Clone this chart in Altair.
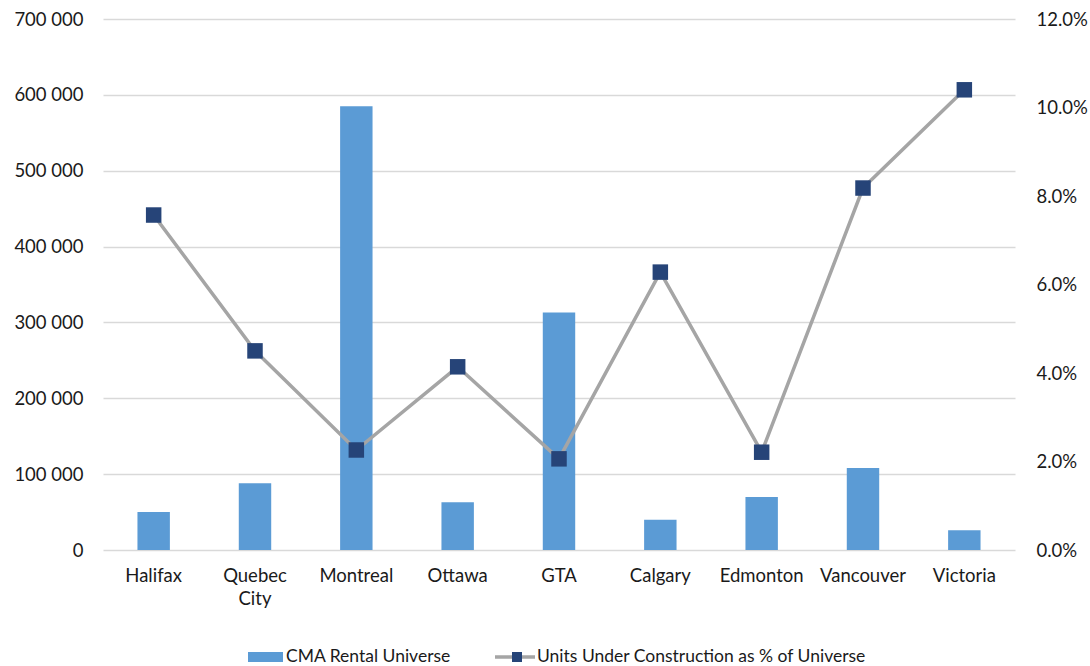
import altair as alt
import pandas as pd

cities = ["Halifax", "Quebec City", "Montreal", "Ottawa", "GTA", "Calgary",
          "Edmonton", "Vancouver", "Victoria"]
rental_universe = [50000, 88000, 585000, 63000, 313000, 40000, 70000, 108000, 26000]
pct_under_construction = [0.0757, 0.0450, 0.0226, 0.0414, 0.0206, 0.0628,
                          0.0221, 0.0818, 0.1040]

bar_name = "CMA Rental Universe"
line_name = "Units Under Construction as % of Universe"

df = pd.DataFrame({"city": cities, "universe": rental_universe, "pct": pct_under_construction})

FONT = "Lato"
BAR = "#5B9BD5"
LINE = "#A5A5A5"
MARK = "#264478"
TXT = "#1a1a1a"
LBL = 18.5
NO_FRAME = alt.ViewBackground(stroke="transparent", strokeWidth=0)

x_axis = alt.Axis(
    labelAngle=0, labelFontSize=LBL, labelColor=TXT, labelFont=FONT,
    labelPadding=16, ticks=False, domain=False, grid=False,
    labelOverlap=False, labelBaseline="top", labelLineHeight=23,
    labelExpr="datum.value == 'Quebec City' ? ['Quebec', 'City'] : datum.value",
)
x_enc = alt.X("city:N", sort=cities, title=None,
              scale=alt.Scale(paddingInner=0.68, paddingOuter=0.34), axis=x_axis)

bars = alt.Chart(df).mark_bar(color=BAR).encode(
    x=x_enc,
    y=alt.Y(
        "universe:Q", title=None,
        scale=alt.Scale(domain=[0, 700000], nice=False),
        axis=alt.Axis(
            values=[0, 100000, 200000, 300000, 400000, 500000, 600000, 700000],
            labelExpr="replace(format(datum.value, ','), /,/g, ' ')",
            labelFontSize=LBL, labelColor=TXT, labelFont=FONT, labelPadding=20,
            ticks=False, domain=False, grid=True, gridColor="#D9D9D9", gridWidth=1.3,
        ),
    ),
)

pct_scale = alt.Scale(domain=[0, 0.12], nice=False)
pct_axis = alt.Axis(
    orient="right", values=[0, 0.02, 0.04, 0.06, 0.08, 0.10, 0.12], format=".1%",
    labelFontSize=LBL, labelColor=TXT, labelFont=FONT, labelPadding=21,
    ticks=False, domain=False, grid=False,
)

line = alt.Chart(df).mark_line(color=LINE, strokeWidth=3.5).encode(
    x=x_enc, y=alt.Y("pct:Q", title=None, scale=pct_scale, axis=pct_axis)
)
points = alt.Chart(df).mark_square(color=MARK, opacity=1, size=240).encode(
    x=x_enc, y=alt.Y("pct:Q", title=None, scale=pct_scale, axis=pct_axis)
)

pct_layer = alt.layer(line, points).properties(view=NO_FRAME)

# Legend drawn below the plot area
leg_y = 531 + 107
leg_font = 17.5
one = lambda t: pd.DataFrame({"t": [t]})
legend = alt.layer(
    alt.Chart(one(bar_name)).mark_rect(color=BAR).encode(
        x=alt.value(145), x2=alt.value(180),
        y=alt.value(leg_y - 5), y2=alt.value(leg_y + 5)),
    alt.Chart(one(bar_name)).mark_text(
        align="left", baseline="middle", fontSize=leg_font, font=FONT, color=TXT).encode(
        text="t:N", x=alt.value(183), y=alt.value(leg_y)),
    alt.Chart(one(line_name)).mark_rect(color=LINE).encode(
        x=alt.value(392), x2=alt.value(432),
        y=alt.value(leg_y - 1.75), y2=alt.value(leg_y + 1.75)),
    alt.Chart(one(line_name)).mark_square(color=MARK, opacity=1, size=100).encode(
        x=alt.value(414), y=alt.value(leg_y)),
    alt.Chart(one(line_name)).mark_text(
        align="left", baseline="middle", fontSize=leg_font, font=FONT, color=TXT).encode(
        text="t:N", x=alt.value(434), y=alt.value(leg_y)),
).properties(view=NO_FRAME)

chart = (
    alt.layer(bars, pct_layer, legend)
    .resolve_scale(y="independent")
    .properties(
        width=912, height=531,
        padding={"left": 103, "top": 19, "right": 75, "bottom": 116},
        autosize=alt.AutoSizeParams(type="none"),
        view=NO_FRAME,
    )
    .configure_view(strokeWidth=0, stroke="transparent")
    .configure_axis(domain=False, domainOpacity=0)
    .configure_axisX(grid=False)
    .configure(background="white")
)

chart.save("out.html", embed_options={"renderer": "svg", "actions": False})
